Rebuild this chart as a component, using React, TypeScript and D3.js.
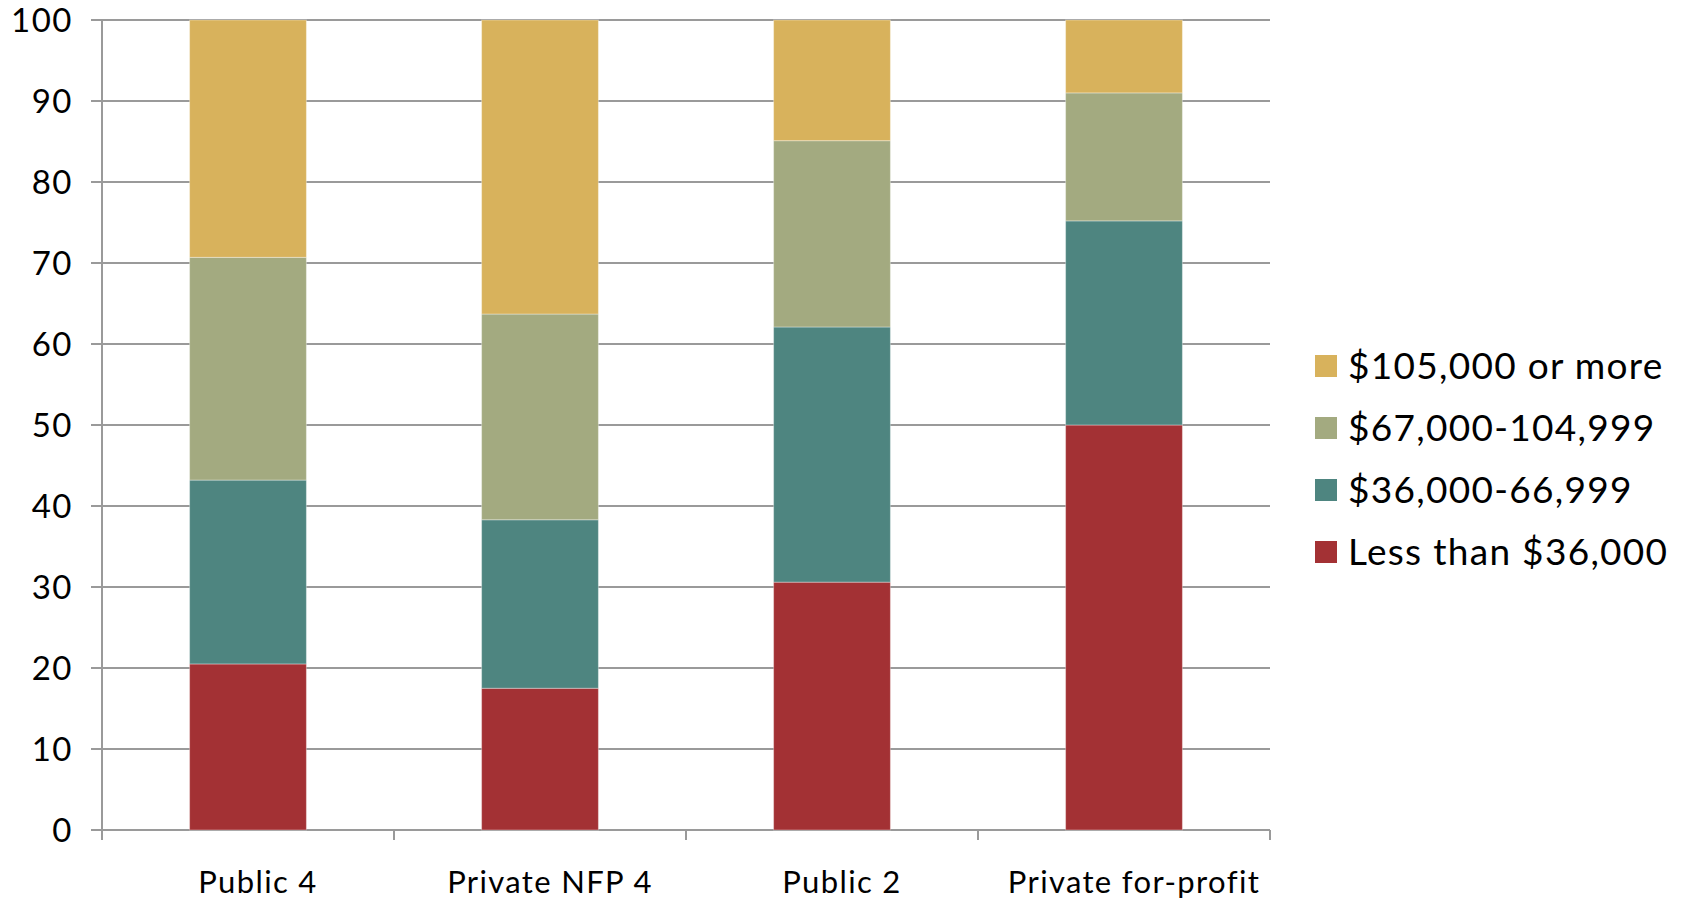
import React from "react";
import * as d3 from "d3";

const categories = ["Public 4", "Private NFP 4", "Public 2", "Private for-profit"];
const seriesNames = ["Less than $36,000", "$36,000-66,999", "$67,000-104,999", "$105,000 or more"];
const lessThan36 = [20.5, 17.5, 30.6, 50.0];
const from36to67 = [22.7, 20.8, 31.5, 25.2];
const from67to105 = [27.5, 25.4, 23.0, 15.8];
const over105 = [29.3, 36.3, 14.9, 9.0];
const yTicks = [0, 10, 20, 30, 40, 50, 60, 70, 80, 90, 100];
const colors = ["#A33134", "#4E8580", "#A3AA80", "#D8B25C"];

const W = 1683;
const H = 901;
const M = { left: 102, right: 1270, top: 20, bottom: 830 };
const FONT = "Lato, 'Open Sans', sans-serif";

export default function App() {
  const series = [lessThan36, from36to67, from67to105, over105];
  const rows = categories.map((c, i) => {
    const r: any = { cat: c };
    seriesNames.forEach((s, k) => (r[s] = series[k][i]));
    return r;
  });
  const stacked = d3.stack().keys(seriesNames)(rows);
  const x = d3.scaleBand().domain(categories).range([M.left, M.right]).paddingInner(0.6).paddingOuter(0.3);
  const xb = d3.scaleBand().domain(categories).range([M.left, M.right]);
  const y = d3.scaleLinear().domain([0, 100]).range([M.bottom, M.top]);
  const legendOrder = [3, 2, 1, 0];
  const grid = "#9a9a9a";

  return (
    <svg width={W} height={H} style={{ position: "absolute", left: 0, top: 0, background: "#fff" }}>
      {yTicks.map((t) => (
        <g key={t}>
          <line x1={M.left - 11} x2={M.right} y1={y(t)} y2={y(t)} stroke={grid} strokeWidth={2} />
          <text x={73} y={y(t)} dy="0.36em" textAnchor="end" fontFamily={FONT} fontSize={33} letterSpacing={1.5} fill="#000">
            {t}
          </text>
        </g>
      ))}
      <line x1={M.left} x2={M.left} y1={M.top} y2={M.bottom + 10} stroke={grid} strokeWidth={2} />
      {categories.map((c) => (
        <line key={c} x1={(xb(c) as number) + xb.bandwidth()} x2={(xb(c) as number) + xb.bandwidth()} y1={M.bottom} y2={M.bottom + 10} stroke={grid} strokeWidth={2} />
      ))}
      {stacked.map((s, k) => (
        <g key={s.key} fill={colors[k]}>
          {s.map((d, i) => (
            <rect
              key={i}
              x={x(categories[i])}
              width={x.bandwidth()}
              y={y(d[1])}
              height={y(d[0]) - y(d[1])}
              stroke="#ffffff"
              strokeOpacity={0.35}
              strokeWidth={1}
            />
          ))}
        </g>
      ))}
      {categories.map((c) => (
        <text key={c} x={(xb(c) as number) + xb.bandwidth() / 2 + 10} y={882} dy="0.36em" textAnchor="middle" fontFamily={FONT} fontSize={31} letterSpacing={1.35} fill="#000">
          {c}
        </text>
      ))}
      {legendOrder.map((k, j) => (
        <g key={k} transform={`translate(1315, ${366 + j * 62})`}>
          <rect x={0} y={-11} width={22} height={22} fill={colors[k]} />
          <text x={33} y={0} dy="0.36em" fontFamily={FONT} fontSize={37} letterSpacing={1.3} fill="#000">
            {seriesNames[k]}
          </text>
        </g>
      ))}
    </svg>
  );
}
